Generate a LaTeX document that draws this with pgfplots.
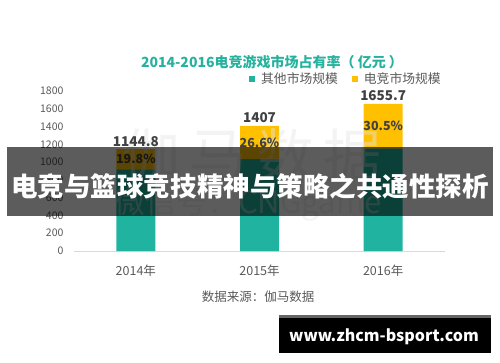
\documentclass[border=0pt]{standalone}
\usepackage{pgfplots}
\pgfplotsset{compat=1.18}
\usepackage{fontspec}
\setmainfont{Noto Sans CJK SC}
\definecolor{tealc}{RGB}{32,180,160}
\definecolor{orangec}{RGB}{255,192,0}
\definecolor{titlec}{RGB}{38,178,158}
\definecolor{txt}{RGB}{89,89,89}
\definecolor{lbl}{RGB}{64,64,64}
\begin{document}
\begin{tikzpicture}[x=1bp,y=1bp]
\useasboundingbox (0,0) rectangle (500,362);
\begin{axis}[
  at={(74bp,111bp)}, anchor=south west,
  scale only axis, width=371bp, height=160bp,
  xmin=-0.5, xmax=2.5, ymin=0, ymax=1800,
  ybar stacked, bar width=39bp,
  clip=false,
  axis x line*=bottom, axis y line*=left,
  x axis line style={draw={rgb,255:red,217;green,217;blue,217}, line width=0.8bp},
  y axis line style={draw=none},
  major tick length=0pt,
  xtick={0,1,2}, xticklabels={2014年,2015年,2016年},
  ytick={0,200,...,1800},
  /pgf/number format/assume math mode=true,
  /pgf/number format/set thousands separator={},
  yticklabel style={font=\fontsize{10.5bp}{12bp}\selectfont, text=txt, xshift=-7bp},
  xticklabel style={font=\fontsize{12.5bp}{14bp}\selectfont, text=txt, yshift=-10bp},
  legend columns=2,
  legend style={draw=none, fill=none, at={(axis description cs:0.733,1.075)}, anchor=center,
    font=\fontsize{12.8bp}{14bp}\selectfont, text=txt,
    /tikz/every even column/.append style={column sep=12bp}},
  legend image code/.code={\fill[#1] (0bp,-3bp) rectangle (6bp,3bp); \path (10bp,0bp);},
]
\addplot[fill=tealc, draw=none] coordinates {(0,918.1) (1,1032.7) (2,1150.7)};
\addlegendentry{其他市场规模}
\addplot[fill=orangec, draw=none] coordinates {(0,226.7) (1,374.3) (2,505.0)};
\addlegendentry{电竞市场规模}
\coordinate (t0) at (axis cs:0,1144.8);
\coordinate (t1) at (axis cs:1,1407);
\coordinate (t2) at (axis cs:2,1655.7);
\coordinate (m0) at (axis cs:0,1031.45);
\coordinate (m1) at (axis cs:1,1219.85);
\coordinate (m2) at (axis cs:2,1403.2);
\end{axis}
% watermark
\foreach \x/\ch in {151/伽, 218/马, 285/数, 352/据}
  \node[font=\fontsize{58bp}{62bp}\selectfont, text={rgb,255:red,228;green,228;blue,228}, opacity=0.45] at (\x,206) {\ch};
\node[font=\fontsize{31bp}{34bp}\selectfont, text={rgb,255:red,228;green,228;blue,228}, opacity=0.45] at (248,158) {微信号：CNGgame};
\foreach \c/\v in {t0/1144.8, t1/1407, t2/1655.7}
  \node[anchor=base, yshift=3bp, font=\bfseries\fontsize{13.5bp}{15bp}\selectfont, text=lbl] at (\c) {\v};
\node[font=\bfseries\fontsize{12.5bp}{14bp}\selectfont, text=lbl] at (m0) {19.8\%};
\node[font=\bfseries\fontsize{12.5bp}{14bp}\selectfont, text=lbl] at (m1) {26.6\%};
\node[font=\bfseries\fontsize{12.5bp}{14bp}\selectfont, text=lbl] at (m2) {30.5\%};
% title
\node[font=\bfseries\fontsize{14bp}{16bp}\selectfont, text=titlec] at (272,300) {2014-2016电竞游戏市场占有率（ 亿元 ）};
% source
\node[font=\fontsize{12.5bp}{14bp}\selectfont, text=txt] at (258,65) {数据来源：伽马数据};
% banner
\fill[black, opacity=0.64] (7,146) rectangle (493,215);
\node[font=\bfseries\fontsize{26.5bp}{30bp}\selectfont, text=white] at (250,176) {电竞与篮球竞技精神与策略之共通性探析};
% bottom box
\fill[black] (279,9) rectangle (491,47);
\fill[black!60] (279,44) rectangle (491,47);
\node[font=\bfseries\fontsize{16bp}{18bp}\selectfont, text=white] at (384,25) {www.zhcm-bsport.com};
\end{tikzpicture}
\end{document}
